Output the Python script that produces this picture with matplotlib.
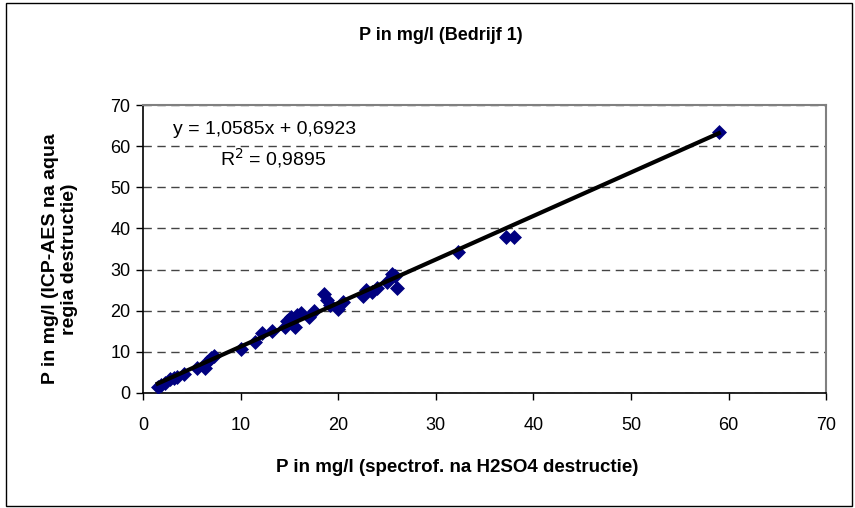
import matplotlib.pyplot as plt
import numpy as np

plt.rcParams['font.family'] = 'Liberation Sans'

# P measurements, spectrophotometer (x) vs ICP-AES (y)
p_spectrof = [1.5, 1.8, 2.2, 2.8, 3.2, 3.5, 4.2, 5.5, 6.3, 6.6, 7.0, 7.3,
              10.0, 11.5, 12.2, 13.2, 14.5, 14.8, 15.2, 15.6, 15.8, 16.2,
              17.0, 17.5, 18.5, 18.8, 19.2, 20.0, 20.5, 22.5, 22.8, 23.5,
              24.0, 25.0, 25.5, 25.8, 26.0, 32.3, 37.2, 38.0, 59.0]
p_icp = [1.5, 2.0, 2.5, 3.3, 3.6, 4.0, 4.5, 6.0, 6.0, 7.5, 8.5, 9.0,
         10.8, 12.5, 14.5, 15.0, 16.0, 17.5, 18.5, 16.0, 19.0, 19.5,
         18.5, 20.0, 24.0, 22.5, 21.5, 20.5, 22.0, 23.5, 25.0, 24.5,
         25.5, 27.0, 29.0, 28.5, 25.5, 34.2, 38.0, 38.0, 63.5]

slope = 1.0585
intercept = 0.6923

xticks = [0, 10, 20, 30, 40, 50, 60, 70]
yticks = [0, 10, 20, 30, 40, 50, 60, 70]

fig = plt.figure(figsize=(8.55, 5.08), dpi=100)
ax = fig.add_axes([0.1673, 0.2264, 0.799, 0.5669])

ax.scatter(p_spectrof, p_icp, marker='D', s=58, color='#000080', zorder=3,
           linewidths=0)

xs = np.array([min(p_spectrof), max(p_spectrof)])
ax.plot(xs, slope * xs + intercept, color='black', lw=3, zorder=4)

ax.set_xlim(0, 70)
ax.set_ylim(0, 70)
ax.set_xticks(xticks)
ax.set_yticks(yticks)
ax.tick_params(direction='out', length=5, width=1, labelsize=13, color='black')
ax.tick_params(axis='x', pad=12)
ax.tick_params(axis='y', pad=4)
ax.yaxis.grid(True, linestyle=(0, (6, 4)), color='#444444', lw=1)
ax.set_axisbelow(True)

for side in ['top', 'right']:
    ax.spines[side].set_color('#808080')
    ax.spines[side].set_linewidth(1.5)
for side in ['left', 'bottom']:
    ax.spines[side].set_color('black')
    ax.spines[side].set_linewidth(1.2)

ax.text(3.1, 64.0, 'y = 1,0585x + 0,6923', fontsize=14, va='center')
ax.text(7.9, 57.2, 'R$^2$ = 0,9895', fontsize=14, va='center')

fig.text(0.515, 0.93, 'P in mg/l (Bedrijf 1)', ha='center', va='center',
         fontsize=13, fontweight='bold')
fig.text(0.535, 0.079, 'P in mg/l (spectrof. na H2SO4 destructie)',
         ha='center', va='center', fontsize=13.5, fontweight='bold')
fig.text(0.07, 0.49, 'P in mg/l (ICP-AES na aqua\nregia destructie)',
         ha='center', va='center', rotation=90, fontsize=14,
         fontweight='bold', linespacing=1.1)

# outer chart border
fig.patches.append(plt.Rectangle((0.007, 0.004), 0.989, 0.99,
                                 transform=fig.transFigure, fill=False,
                                 edgecolor='black', lw=1))

fig.savefig('out.png', dpi=100)
